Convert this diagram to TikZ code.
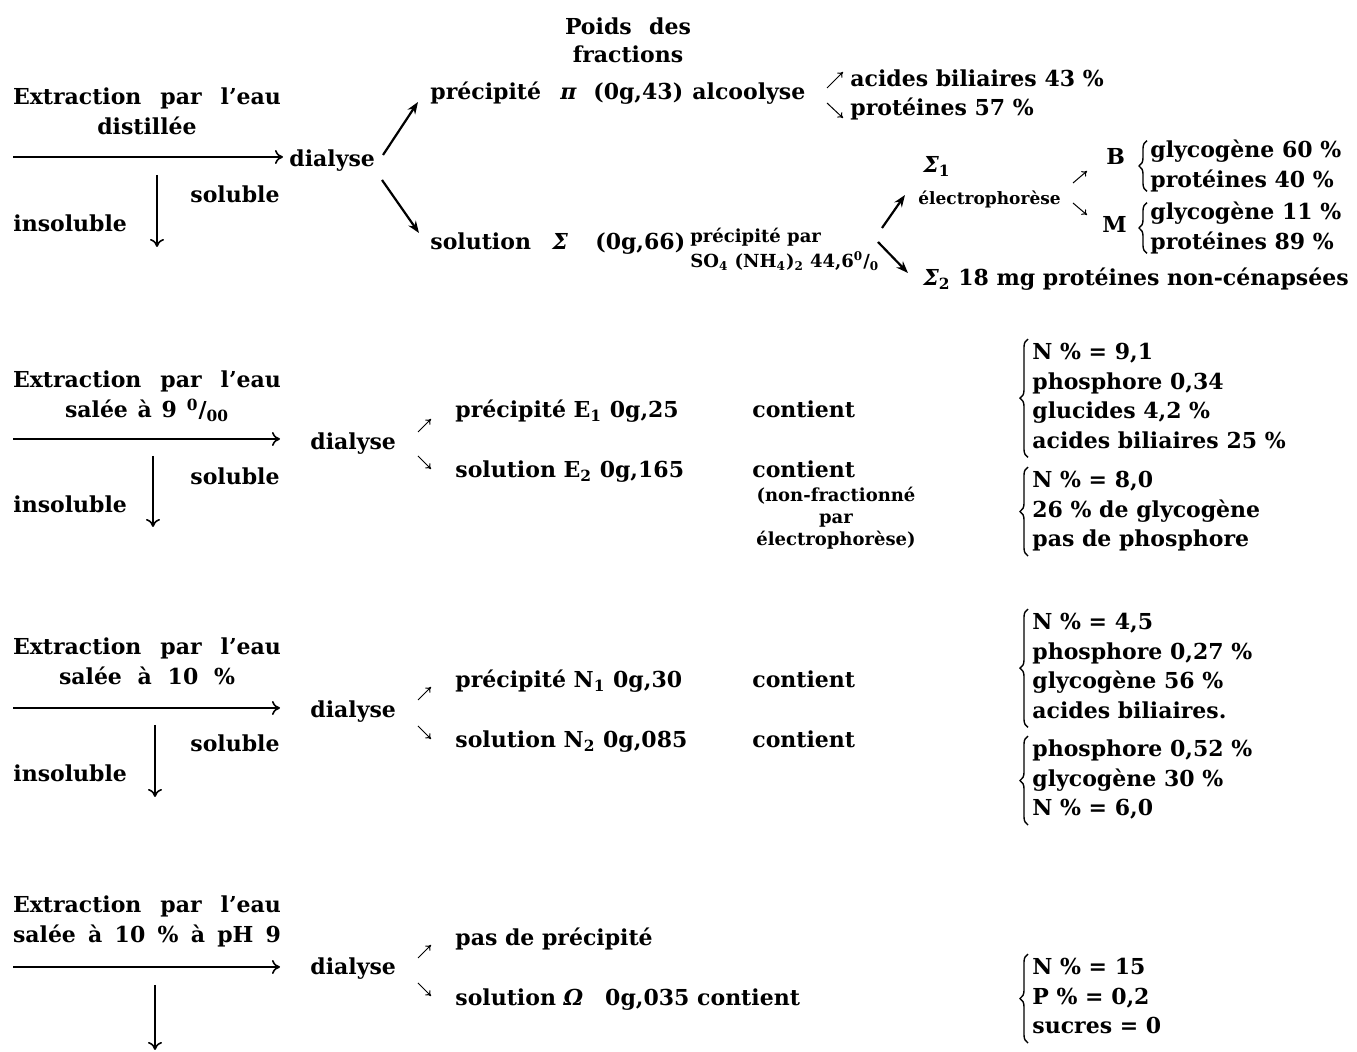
\documentclass[tikz,border=0pt]{standalone}
\usepackage{fontspec}
\setmainfont{DejaVu Serif}
\usetikzlibrary{arrows.meta,decorations.pathreplacing}
\newcommand\cstack[1]{\begin{tabular}[t]{@{}c@{}}#1\end{tabular}}
\newcommand\lstack[1]{\begin{tabular}[t]{@{}l@{}}#1\end{tabular}}
\newcommand\spread[2]{\makebox[#1][s]{#2}}
\tikzset{
  txt/.style={font=\bfseries\fontsize{11}{15}\selectfont, inner sep=0pt, anchor=base west},
  ctxt/.style={txt, anchor=base},
  lst/.style={font=\bfseries\fontsize{11}{14.7}\selectfont, inner sep=0pt, anchor=base west},
  sml/.style={font=\bfseries\fontsize{8.5}{11}\selectfont, inner sep=0pt, anchor=base west},
  mainarr/.style={line width=0.8pt, -{To[length=4pt,width=7pt]}},
  bigarr/.style={line width=1.1pt, -{Stealth[length=6pt,width=4.5pt]}},
  smallarr/.style={line width=0.5pt, -{To[length=2.5pt,width=3.5pt]}},
  brc/.style={line width=0.7pt, decorate, decoration={brace, amplitude=4pt}},
}
\begin{document}
\begin{tikzpicture}[x=0.5pt, y=-0.5pt]
\fill[white] (0,0) rectangle (1357,1052);
\useasboundingbox (0,0) rectangle (1357,1052);

% ---------------- Section 1 ----------------
\node[ctxt] (x1) at (147,105) {\cstack{\spread{134pt}{Extraction par l'eau}\\distillée}};
\node[txt] (d1) at (289,167) {dialyse};
\coordinate (a1s) at (13,157);
\draw[mainarr] (a1s) -- (d1.west |- a1s) [shorten >=3pt];
\node[txt] (sol1) at (190,203) {soluble};
\node[txt] (ins1) at (13,232) {insoluble};
\coordinate (v1s) at (157,175); \coordinate (v1e) at (157,247);
\draw[mainarr] (v1s) -- (v1e);

\node[ctxt, font=\bfseries\fontsize{11}{14}\selectfont] (pf) at (628,35) {\cstack{\spread{63pt}{Poids des}\\fractions}};

\node[txt] (p1) at (430,100) {précipité};
\node[txt] (pi) at (560,100) {\itshape π};
\node[txt] (w1) at (593,100) {(0g,43)};
\node[txt] (alc) at (692,100) {alcoolyse};
\coordinate (b1s) at (383,155); \coordinate (b1e) at (418,102);
\draw[bigarr] (b1s) -- (b1e);
\coordinate (b2s) at (382,180); \coordinate (b2e) at (419,233);
\draw[bigarr] (b2s) -- (b2e);

\node[txt] (ab) at (850,87) {acides biliaires 43 \%};
\node[txt] (pr) at (850,116) {protéines 57 \%};
\coordinate (sa1) at (827,88); \coordinate (sa2) at (843,72);
\draw[smallarr] (sa1) -- (sa2);
\coordinate (sa3) at (827,103); \coordinate (sa4) at (843,118);
\draw[smallarr] (sa3) -- (sa4);

\node[txt] (s1) at (430,250) {solution};
\node[txt] (sig) at (552,250) {\itshape Σ};
\node[txt] (w2) at (595,250) {(0g,66)};
\node[sml, font=\bfseries\fontsize{9}{11}\selectfont] (pp) at (690,243) {précipité par};
\node[sml, font=\bfseries\fontsize{9}{11}\selectfont] (so4) at (690,268) {SO\textsubscript{4} (NH\textsubscript{4})\textsubscript{2} 44,6\textsuperscript{0}/\textsubscript{0}};

\coordinate (b3s) at (882,228); \coordinate (b3e) at (905,195);
\draw[bigarr] (b3s) -- (b3e);
\coordinate (b4s) at (878,242); \coordinate (b4e) at (908,273);
\draw[bigarr] (b4s) -- (b4e);

\node[txt] (sg1) at (923,173) {\itshape Σ\textsubscript{\upshape 1}};
\node[sml] (el) at (918,205) {électrophorèse};
\coordinate (sa5) at (1073,183); \coordinate (sa6) at (1087,171);
\draw[smallarr] (sa5) -- (sa6);
\coordinate (sa7) at (1073,203); \coordinate (sa8) at (1087,215);
\draw[smallarr] (sa7) -- (sa8);

\node[txt] (B) at (1106,165) {B};
\node[lst, font=\bfseries\fontsize{11}{15}\selectfont] (bl) at (1150,158) {\lstack{glycogène 60 \%\\protéines 40 \%}};
\draw[brc] ([xshift=-1.5pt,yshift=3pt]bl.south west) -- ([xshift=-1.5pt,yshift=-2pt]bl.north west);
\node[txt] (M) at (1102,233) {M};
\node[lst, font=\bfseries\fontsize{11}{15}\selectfont] (ml) at (1150,220) {\lstack{glycogène 11 \%\\protéines 89 \%}};
\draw[brc] ([xshift=-1.5pt,yshift=3pt]ml.south west) -- ([xshift=-1.5pt,yshift=-2pt]ml.north west);

\node[txt] (sg2) at (923,286) {\itshape Σ\textsubscript{\upshape 2}\upshape{} 18 mg protéines non-cénapsées};

% ---------------- Section 2 ----------------
\node[ctxt] (x2) at (147,388) {\cstack{\spread{134pt}{Extraction par l'eau}\\\spread{82pt}{salée à 9 \textsuperscript{0}/\textsubscript{00}}}};
\node[txt] (d2) at (310,450) {dialyse};
\coordinate (a2s) at (13,439);
\draw[mainarr] (a2s) -- (d2.west |- a2s) [shorten >=15pt];
\node[txt] (sol2) at (190,485) {soluble};
\node[txt] (ins2) at (13,513) {insoluble};
\coordinate (v2s) at (153,456); \coordinate (v2e) at (153,527);
\draw[mainarr] (v2s) -- (v2e);
\coordinate (sb1) at (418,432); \coordinate (sb2) at (431,419);
\draw[smallarr] (sb1) -- (sb2);
\coordinate (sb3) at (418,456); \coordinate (sb4) at (431,469);
\draw[smallarr] (sb3) -- (sb4);

\node[txt] (e1) at (455,418) {précipité E\textsubscript{1} 0g,25};
\node[txt] (c1) at (752,418) {contient};
\node[txt] (e2) at (455,478) {solution E\textsubscript{2} 0g,165};
\node[txt] (c2) at (752,478) {contient};
\node[sml, anchor=base, font=\bfseries\fontsize{9}{11}\selectfont] (nf) at (836,502) {\cstack{(non-fractionné\\par\\électrophorèse)}};

\node[lst] (l1) at (1032,360) {\lstack{N \% = 9,1\\phosphore 0,34\\glucides 4,2 \%\\acides biliaires 25 \%}};
\draw[brc] ([xshift=-2pt]l1.south west) -- ([xshift=-2pt]l1.north west);
\node[lst] (l2) at (1032,488) {\lstack{N \% = 8,0\\26 \% de glycogène\\pas de phosphore}};
\draw[brc] ([xshift=-2pt]l2.south west) -- ([xshift=-2pt]l2.north west);

% ---------------- Section 3 ----------------
\node[ctxt] (x3) at (147,655) {\cstack{\spread{134pt}{Extraction par l'eau}\\\spread{88pt}{salée à 10 \%}}};
\node[txt] (d3) at (310,718) {dialyse};
\coordinate (a3s) at (13,708);
\draw[mainarr] (a3s) -- (d3.west |- a3s) [shorten >=15pt];
\node[txt] (sol3) at (190,752) {soluble};
\node[txt] (ins3) at (13,782) {insoluble};
\coordinate (v3s) at (155,725); \coordinate (v3e) at (155,797);
\draw[mainarr] (v3s) -- (v3e);
\coordinate (sc1) at (418,700); \coordinate (sc2) at (431,687);
\draw[smallarr] (sc1) -- (sc2);
\coordinate (sc3) at (418,726); \coordinate (sc4) at (431,739);
\draw[smallarr] (sc3) -- (sc4);

\node[txt] (n1) at (455,688) {précipité N\textsubscript{1} 0g,30};
\node[txt] (c3) at (752,688) {contient};
\node[txt] (n2) at (455,748) {solution N\textsubscript{2} 0g,085};
\node[txt] (c4) at (752,748) {contient};

\node[lst] (l3) at (1032,630) {\lstack{N \% = 4,5\\phosphore 0,27 \%\\glycogène 56 \%\\acides biliaires.}};
\draw[brc] ([xshift=-2pt]l3.south west) -- ([xshift=-2pt]l3.north west);
\node[lst] (l4) at (1032,757) {\lstack{phosphore 0,52 \%\\glycogène 30 \%\\N \% = 6,0}};
\draw[brc] ([xshift=-2pt]l4.south west) -- ([xshift=-2pt]l4.north west);

% ---------------- Section 4 ----------------
\node[ctxt] (x4) at (147,913) {\cstack{\spread{134pt}{Extraction par l'eau}\\\spread{134pt}{salée à 10 \% à pH 9}}};
\node[txt] (d4) at (310,975) {dialyse};
\coordinate (a4s) at (13,967);
\draw[mainarr] (a4s) -- (d4.west |- a4s) [shorten >=15pt];
\coordinate (v4s) at (155,985); \coordinate (v4e) at (155,1050);
\draw[mainarr] (v4s) -- (v4e);
\coordinate (sd1) at (418,958); \coordinate (sd2) at (431,945);
\draw[smallarr] (sd1) -- (sd2);
\coordinate (sd3) at (418,983); \coordinate (sd4) at (431,996);
\draw[smallarr] (sd3) -- (sd4);

\node[txt] (pdp) at (455,946) {pas de précipité};
\node[txt] (om) at (455,1006) {solution \textit{Ω}\quad 0g,035 contient};

\node[lst] (l5) at (1032,975) {\lstack{N \% = 15\\P \% = 0,2\\sucres = 0}};
\draw[brc] ([xshift=-2pt]l5.south west) -- ([xshift=-2pt]l5.north west);
\end{tikzpicture}
\end{document}
